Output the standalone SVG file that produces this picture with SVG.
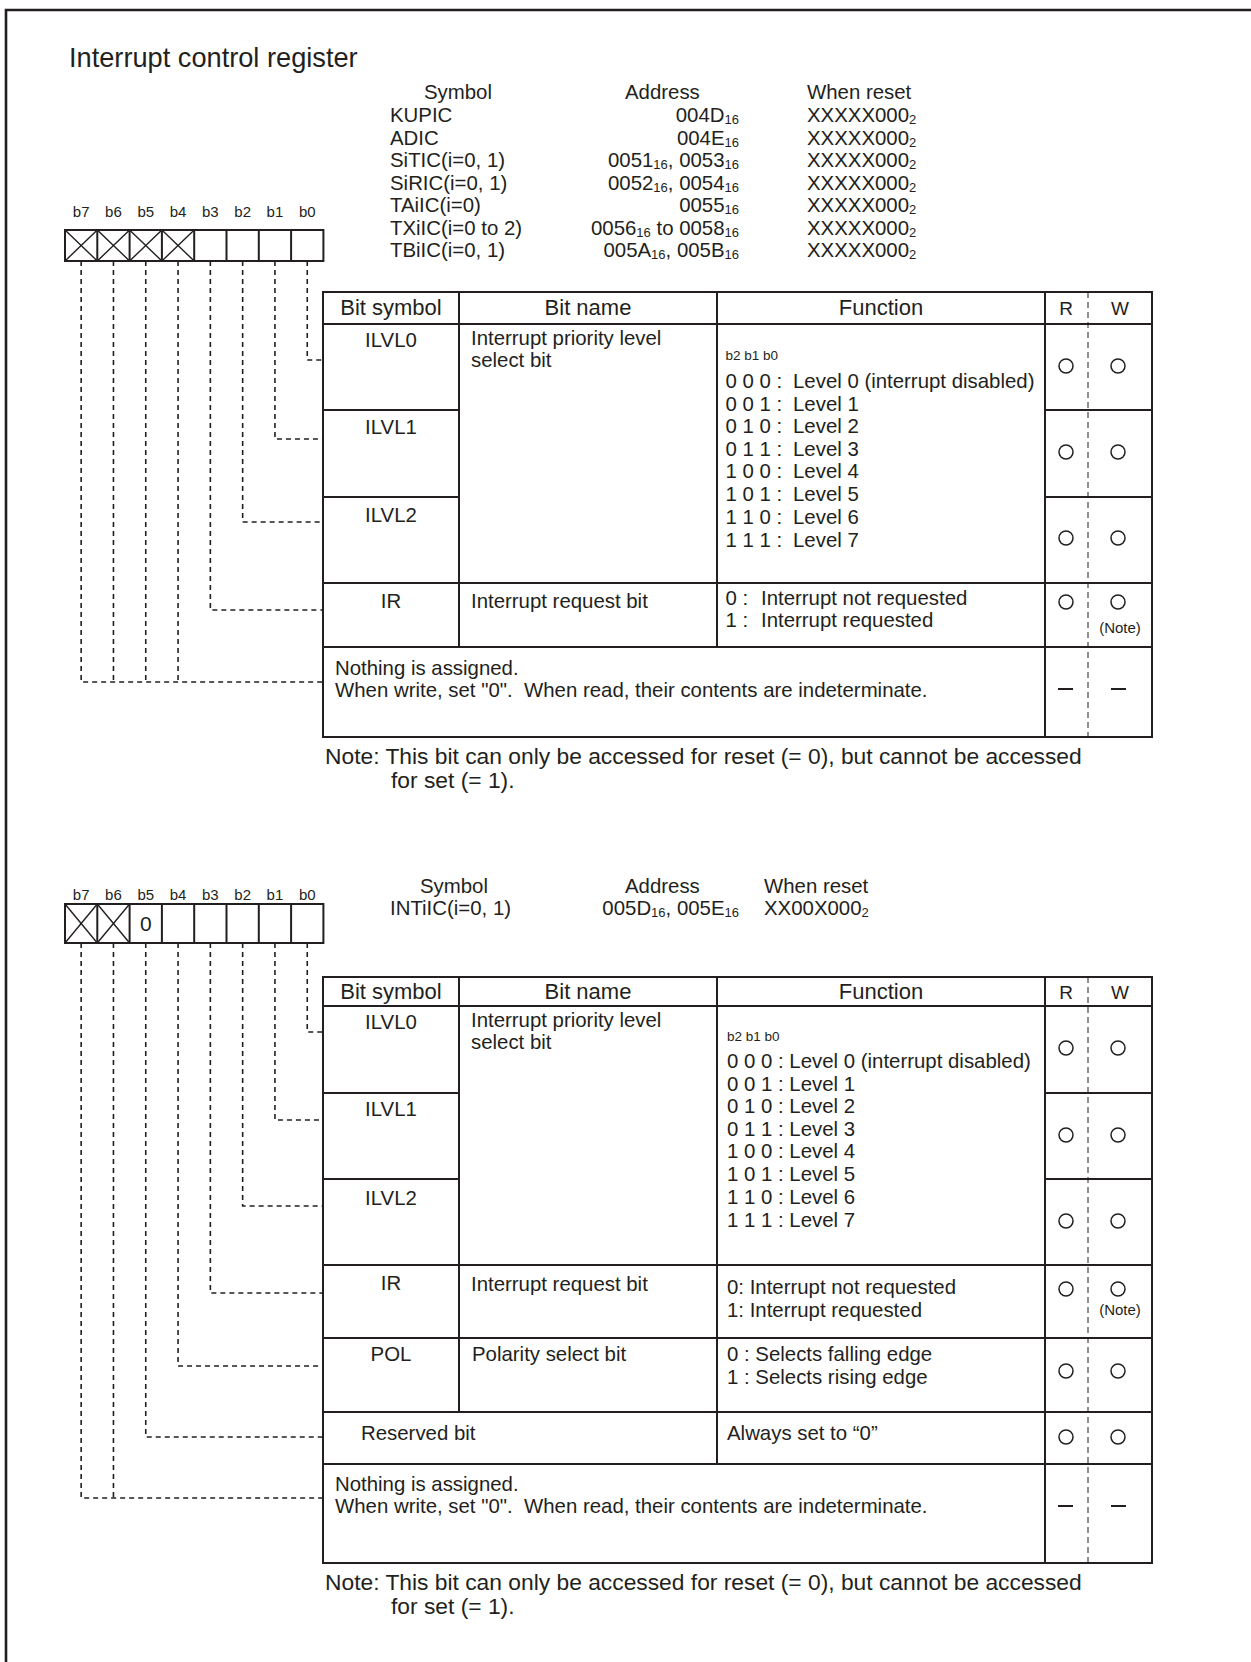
<svg xmlns="http://www.w3.org/2000/svg" width="1251" height="1662" viewBox="0 0 1251 1662">
<style>
.t{font-family:"Liberation Sans",Arial,sans-serif;font-size:20.4px;fill:#231f20}
.h{font-size:22px}
.no{font-size:22.8px}
.rw{font-size:19px}
.lb{font-size:15px}
.sm{font-size:13.5px}
.nt{font-size:15px}
.sub{font-size:13px}
.m{text-anchor:middle}
.e{text-anchor:end}
.ln{stroke:#231f20;stroke-width:2;fill:none}
.thin{stroke:#231f20;stroke-width:1.4;fill:none}
.dd{stroke:#231f20;stroke-width:1;stroke-dasharray:6 4;fill:none}
.cn{stroke:#231f20;stroke-width:1.6;stroke-dasharray:5 4;fill:none}
.ci{stroke:#231f20;stroke-width:1.5;fill:none}
</style>
<rect width="1251" height="1662" fill="#fff"/>
<path d="M1251 10 H6 V1662" stroke="#231f20" stroke-width="2.6" fill="none"/>

<g id="title"><text class="t" x="69" y="67" style="font-size:27.2px">Interrupt control register</text></g>

<g id="sym1">
<text class="t" x="424" y="99">Symbol</text>
<text class="t" x="625" y="99">Address</text>
<text class="t" x="807" y="99">When reset</text>
<text class="t" x="390" y="122">KUPIC</text>
<text class="t" x="390" y="144.5">ADIC</text>
<text class="t" x="390" y="167">SiTIC(i=0, 1)</text>
<text class="t" x="390" y="189.5">SiRIC(i=0, 1)</text>
<text class="t" x="390" y="212">TAiIC(i=0)</text>
<text class="t" x="390" y="234.5">TXiIC(i=0 to 2)</text>
<text class="t" x="390" y="257">TBiIC(i=0, 1)</text>
<text class="t e" x="739" y="122">004D<tspan class="sub" dy="2">16</tspan></text>
<text class="t e" x="739" y="144.5">004E<tspan class="sub" dy="2">16</tspan></text>
<text class="t e" x="739" y="167">0051<tspan class="sub" dy="2">16</tspan><tspan dy="-2">, 0053</tspan><tspan class="sub" dy="2">16</tspan></text>
<text class="t e" x="739" y="189.5">0052<tspan class="sub" dy="2">16</tspan><tspan dy="-2">, 0054</tspan><tspan class="sub" dy="2">16</tspan></text>
<text class="t e" x="739" y="212">0055<tspan class="sub" dy="2">16</tspan></text>
<text class="t e" x="739" y="234.5">0056<tspan class="sub" dy="2">16</tspan><tspan dy="-2"> to 0058</tspan><tspan class="sub" dy="2">16</tspan></text>
<text class="t e" x="739" y="257">005A<tspan class="sub" dy="2">16</tspan><tspan dy="-2">, 005B</tspan><tspan class="sub" dy="2">16</tspan></text>
<text class="t" x="807" y="122">XXXXX000<tspan class="sub" dy="2">2</tspan></text>
<text class="t" x="807" y="144.5">XXXXX000<tspan class="sub" dy="2">2</tspan></text>
<text class="t" x="807" y="167">XXXXX000<tspan class="sub" dy="2">2</tspan></text>
<text class="t" x="807" y="189.5">XXXXX000<tspan class="sub" dy="2">2</tspan></text>
<text class="t" x="807" y="212">XXXXX000<tspan class="sub" dy="2">2</tspan></text>
<text class="t" x="807" y="234.5">XXXXX000<tspan class="sub" dy="2">2</tspan></text>
<text class="t" x="807" y="257">XXXXX000<tspan class="sub" dy="2">2</tspan></text>
</g>

<g id="reg1">
<g class="t lb m">
<text x="81.15" y="217">b7</text><text x="113.45" y="217">b6</text><text x="145.75" y="217">b5</text><text x="178.05" y="217">b4</text>
<text x="210.35" y="217">b3</text><text x="242.65" y="217">b2</text><text x="274.95" y="217">b1</text><text x="307.25" y="217">b0</text>
</g>
<rect class="ln" x="65" y="230" width="258.4" height="31"/>
<path class="ln" d="M97.3 230V261M129.6 230V261M161.9 230V261M194.2 230V261M226.5 230V261M258.8 230V261M291.1 230V261"/>
<path class="thin" d="M65 230L97.3 261M97.3 230L65 261M97.3 230L129.6 261M129.6 230L97.3 261M129.6 230L161.9 261M161.9 230L129.6 261M161.9 230L194.2 261M194.2 230L161.9 261"/>
</g>

<g id="table1">
<path class="ln" d="M323 292H1152V737H323Z M323 324H1152 M323 410H459 M323 497H459 M1045 410H1152 M1045 497H1152 M323 583H1152 M323 647H1152 M459 292V647 M717 292V647 M1045 292V737"/>
<path class="dd" d="M1088 292V737"/>
<g class="t h m">
<text x="391" y="315">Bit symbol</text><text x="588" y="315">Bit name</text><text x="881" y="315">Function</text>
</g>
<text class="t rw m" x="1066" y="315">R</text><text class="t rw m" x="1120" y="315">W</text>
<text class="t m" x="391" y="347">ILVL0</text>
<text class="t m" x="391" y="434">ILVL1</text>
<text class="t m" x="391" y="522">ILVL2</text>
<text class="t" x="471" y="345">Interrupt priority level</text>
<text class="t" x="471" y="367">select bit</text>
<text class="t sm" x="725.5" y="360">b2 b1 b0</text>
<g>
<text class="t" x="725.5" y="388">0 0 0 :</text><text class="t" x="793" y="388">Level 0 (interrupt disabled)</text>
<text class="t" x="725.5" y="410.5">0 0 1 :</text><text class="t" x="793" y="410.5">Level 1</text>
<text class="t" x="725.5" y="433">0 1 0 :</text><text class="t" x="793" y="433">Level 2</text>
<text class="t" x="725.5" y="455.5">0 1 1 :</text><text class="t" x="793" y="455.5">Level 3</text>
<text class="t" x="725.5" y="478">1 0 0 :</text><text class="t" x="793" y="478">Level 4</text>
<text class="t" x="725.5" y="501">1 0 1 :</text><text class="t" x="793" y="501">Level 5</text>
<text class="t" x="725.5" y="523.5">1 1 0 :</text><text class="t" x="793" y="523.5">Level 6</text>
<text class="t" x="725.5" y="546.5">1 1 1 :</text><text class="t" x="793" y="546.5">Level 7</text>
</g>
<text class="t m" x="391" y="608">IR</text>
<text class="t" x="471" y="608">Interrupt request bit</text>
<text class="t" x="725.5" y="604.5">0 :</text><text class="t" x="761" y="604.5">Interrupt not requested</text>
<text class="t" x="725.5" y="627">1 :</text><text class="t" x="761" y="627">Interrupt requested</text>
<text class="t" x="335" y="675">Nothing is assigned.</text>
<text class="t" x="335" y="697" xml:space="preserve">When write, set "0".  When read, their contents are indeterminate.</text>
<g class="ci">
<circle cx="1066" cy="366" r="7"/><circle cx="1118" cy="366" r="7"/>
<circle cx="1066" cy="452" r="7"/><circle cx="1118" cy="452" r="7"/>
<circle cx="1066" cy="538" r="7"/><circle cx="1118" cy="538" r="7"/>
<circle cx="1066" cy="602" r="7"/><circle cx="1118" cy="602" r="7"/>
</g>
<text class="t nt m" x="1120" y="633">(Note)</text>
<path class="ln" d="M1058 689H1073M1111 689H1126"/>
</g>

<g id="note1">
<text class="t no" x="325" y="764">Note: This bit can only be accessed for reset (= 0), but cannot be accessed</text>
<text class="t no" x="391" y="788">for set (= 1).</text>
</g>

<g id="sym2">
<text class="t" x="420" y="893">Symbol</text>
<text class="t" x="625" y="893">Address</text>
<text class="t" x="764" y="893">When reset</text>
<text class="t" x="390" y="915">INTiIC(i=0, 1)</text>
<text class="t e" x="739" y="915">005D<tspan class="sub" dy="2">16</tspan><tspan dy="-2">, 005E</tspan><tspan class="sub" dy="2">16</tspan></text>
<text class="t" x="764" y="915">XX00X000<tspan class="sub" dy="2">2</tspan></text>
</g>

<g id="reg2">
<g class="t lb m">
<text x="81.15" y="900">b7</text><text x="113.45" y="900">b6</text><text x="145.75" y="900">b5</text><text x="178.05" y="900">b4</text>
<text x="210.35" y="900">b3</text><text x="242.65" y="900">b2</text><text x="274.95" y="900">b1</text><text x="307.25" y="900">b0</text>
</g>
<rect class="ln" x="65" y="904" width="258.4" height="39"/>
<path class="ln" d="M97.3 904V943M129.6 904V943M161.9 904V943M194.2 904V943M226.5 904V943M258.8 904V943M291.1 904V943"/>
<path class="thin" d="M65 904L97.3 943M97.3 904L65 943M97.3 904L129.6 943M129.6 904L97.3 943"/>
<text class="t m" x="145.75" y="931" style="font-size:21px">0</text>
</g>

<g id="table2">
<path class="ln" d="M323 977H1152V1563H323Z M323 1006H1152 M323 1093H459 M323 1179H459 M1045 1093H1152 M1045 1179H1152 M323 1265H1152 M323 1338H1152 M323 1412H1152 M323 1464H1152 M459 977V1412 M717 977V1464 M1045 977V1563"/>
<path class="dd" d="M1088 977V1563"/>
<g class="t h m">
<text x="391" y="999">Bit symbol</text><text x="588" y="999">Bit name</text><text x="881" y="999">Function</text>
</g>
<text class="t rw m" x="1066" y="999">R</text><text class="t rw m" x="1120" y="999">W</text>
<text class="t m" x="391" y="1029">ILVL0</text>
<text class="t m" x="391" y="1116">ILVL1</text>
<text class="t m" x="391" y="1205">ILVL2</text>
<text class="t" x="471" y="1027">Interrupt priority level</text>
<text class="t" x="471" y="1049">select bit</text>
<text class="t sm" x="727" y="1041">b2 b1 b0</text>
<g>
<text class="t" x="727" y="1068">0 0 0 : Level 0 (interrupt disabled)</text>
<text class="t" x="727" y="1090.5">0 0 1 : Level 1</text>
<text class="t" x="727" y="1113">0 1 0 : Level 2</text>
<text class="t" x="727" y="1135.5">0 1 1 : Level 3</text>
<text class="t" x="727" y="1158">1 0 0 : Level 4</text>
<text class="t" x="727" y="1181">1 0 1 : Level 5</text>
<text class="t" x="727" y="1203.5">1 1 0 : Level 6</text>
<text class="t" x="727" y="1226.5">1 1 1 : Level 7</text>
</g>
<text class="t m" x="391" y="1290">IR</text>
<text class="t" x="471" y="1291">Interrupt request bit</text>
<text class="t" x="727" y="1294">0: Interrupt not requested</text>
<text class="t" x="727" y="1316.5">1: Interrupt requested</text>
<text class="t m" x="391" y="1361">POL</text>
<text class="t" x="472" y="1361">Polarity select bit</text>
<text class="t" x="727" y="1361">0 : Selects falling edge</text>
<text class="t" x="727" y="1384">1 : Selects rising edge</text>
<text class="t" x="361" y="1440">Reserved bit</text>
<text class="t" x="727" y="1440">Always set to “0”</text>
<text class="t" x="335" y="1491">Nothing is assigned.</text>
<text class="t" x="335" y="1513" xml:space="preserve">When write, set "0".  When read, their contents are indeterminate.</text>
<g class="ci">
<circle cx="1066" cy="1048" r="7"/><circle cx="1118" cy="1048" r="7"/>
<circle cx="1066" cy="1135" r="7"/><circle cx="1118" cy="1135" r="7"/>
<circle cx="1066" cy="1221" r="7"/><circle cx="1118" cy="1221" r="7"/>
<circle cx="1066" cy="1289" r="7"/><circle cx="1118" cy="1289" r="7"/>
<circle cx="1066" cy="1371" r="7"/><circle cx="1118" cy="1371" r="7"/>
<circle cx="1066" cy="1437" r="7"/><circle cx="1118" cy="1437" r="7"/>
</g>
<text class="t nt m" x="1120" y="1315">(Note)</text>
<path class="ln" d="M1058 1506H1073M1111 1506H1126"/>
</g>

<g id="note2">
<text class="t no" x="325" y="1590">Note: This bit can only be accessed for reset (= 0), but cannot be accessed</text>
<text class="t no" x="391" y="1614">for set (= 1).</text>
</g>

<g id="connectors" class="cn">
<path d="M307.25 261V360H323"/>
<path d="M274.95 261V439H323"/>
<path d="M242.65 261V522H323"/>
<path d="M210.35 261V610H323"/>
<path d="M178.05 261V682"/>
<path d="M145.75 261V682"/>
<path d="M113.45 261V682"/>
<path d="M81.15 261V682H323"/>
<path d="M307.25 943V1032H323"/>
<path d="M274.95 943V1120H323"/>
<path d="M242.65 943V1206H323"/>
<path d="M210.35 943V1293H323"/>
<path d="M178.05 943V1366H323"/>
<path d="M145.75 943V1437H323"/>
<path d="M113.45 943V1498"/>
<path d="M81.15 943V1498H323"/>
</g>
</svg>
